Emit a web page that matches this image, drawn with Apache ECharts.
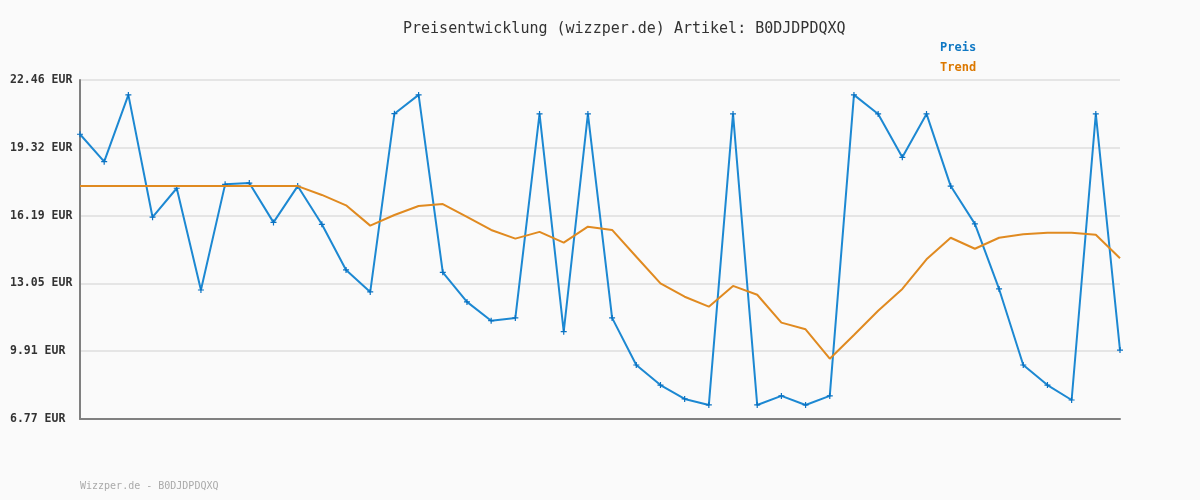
<!DOCTYPE html>
<html>
<head>
<meta charset="utf-8">
<script src="https://cdn.jsdelivr.net/npm/echarts@6/dist/echarts.min.js"></script>
<style>
html,body{margin:0;padding:0;background:#fafafa;}
#chart{width:1200px;height:500px;}
</style>
</head>
<body>
<div id="chart"></div>
<script>
const categories = Array.from({length: 44}, (_, i) => String(i + 1));
const preis = [19.95, 18.68, 21.77, 16.11, 17.45, 12.74, 17.63, 17.69, 15.87, 17.55,
  15.78, 13.67, 12.65, 20.90, 21.77, 13.56, 12.19, 11.32, 11.45, 20.89,
  10.81, 20.89, 11.45, 9.27, 8.34, 7.70, 7.42, 20.89, 7.42, 7.84,
  7.42, 7.84, 21.77, 20.89, 18.88, 20.89, 17.55, 15.80, 12.79, 9.27,
  8.34, 7.65, 20.89, 9.96];
const trend = [17.55, 17.55, 17.55, 17.55, 17.55, 17.55, 17.55, 17.55, 17.55, 17.55,
  17.14, 16.66, 15.72, 16.21, 16.63, 16.72, 16.13, 15.52, 15.12, 15.43,
  14.93, 15.67, 15.52, 14.28, 13.05, 12.43, 11.97, 12.93, 12.52, 11.23,
  10.92, 9.56, 10.66, 11.78, 12.79, 14.16, 15.16, 14.65, 15.16, 15.32,
  15.39, 15.39, 15.30, 14.21];
const tickLabels = ['6.77 EUR', '9.91 EUR', '13.05 EUR', '16.19 EUR', '19.32 EUR', '22.46 EUR'];
const yMin = 6.77, yMax = 22.46;

const mono = 'DejaVu Sans Mono';
const chart = echarts.init(document.getElementById('chart'), null, {renderer: 'canvas'});
chart.setOption({
  animation: false,
  backgroundColor: '#fafafa',
  title: {
    text: 'Preisentwicklung (wizzper.de) Artikel: B0DJDPDQXQ',
    left: 398, top: 17,
    textStyle: {fontFamily: mono, fontSize: 15, fontWeight: 'normal', color: '#333'}
  },
  legend: {
    orient: 'vertical', left: 935, top: 42, padding: 0,
    itemWidth: 0, itemHeight: 12, itemGap: 8,
    data: [
      {name: 'Preis', icon: 'none', textStyle: {color: '#0f78c4'}},
      {name: 'Trend', icon: 'none', textStyle: {color: '#dc7800'}}
    ],
    textStyle: {fontFamily: mono, fontSize: 12, fontWeight: 'bold'},
    selectedMode: false
  },
  graphic: [{
    type: 'text', left: 80, top: 481,
    style: {text: 'Wizzper.de - B0DJDPDQXQ', fill: '#aaaaaa', font: '10px "DejaVu Sans Mono"'}
  }],
  grid: {left: 80, right: 80, top: 80, bottom: 81, containLabel: false},
  xAxis: {
    type: 'category', data: categories, boundaryGap: false,
    axisLine: {show: true, lineStyle: {color: '#808080', width: 2}},
    axisTick: {show: false}, axisLabel: {show: false}, splitLine: {show: false}
  },
  yAxis: {
    type: 'value', min: yMin, max: yMax, interval: (yMax - yMin) / 5,
    axisLine: {show: true, lineStyle: {color: '#808080', width: 2}},
    axisTick: {show: false},
    splitLine: {show: true, lineStyle: {color: '#e5e5e5', width: 2}},
    axisLabel: {
      align: 'left', margin: 70,
      fontFamily: mono, fontSize: 11.5, fontWeight: 'bold', color: '#333',
      formatter: (v, i) => tickLabels[i]
    }
  },
  series: [
    {
      name: 'Preis', type: 'line', data: preis,
      symbol: 'path://M2,0H3V2H5V3H3V5H2V3H0V2H2Z', symbolSize: 6, showSymbol: true,
      itemStyle: {color: '#0a72c2'},
      lineStyle: {color: '#1c88d2', width: 2},
      z: 2
    },
    {
      name: 'Trend', type: 'line', data: trend,
      symbol: 'none',
      itemStyle: {color: '#dc7800'},
      lineStyle: {color: '#e08a20', width: 2},
      z: 3
    }
  ]
});
</script>
</body>
</html>
